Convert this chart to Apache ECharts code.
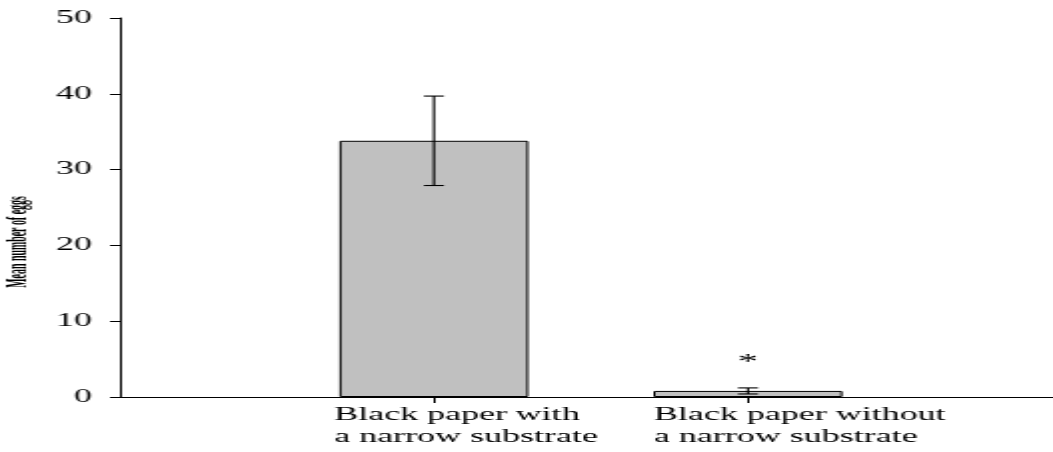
<!DOCTYPE html>
<html>
<head>
<meta charset="utf-8">
<script src="https://cdn.jsdelivr.net/npm/echarts@6/dist/echarts.min.js"></script>
<style>
html,body{margin:0;padding:0;background:#fff;}
#wrap{width:1053px;height:452px;overflow:hidden;position:relative;}
#chart{width:527px;height:452px;transform:scaleX(1.99810);transform-origin:0 0;}
</style>
</head>
<body>
<div id="wrap"><div id="chart"></div></div>
<script>
// Data
const categories = ['Black paper with\na narrow substrate', 'Black paper without\na narrow substrate'];
const meanEggs = [33.8, 0.8];
const seEggs = [5.9, 0.4];
const significance = ['', '*'];
const yTicks = [0, 10, 20, 30, 40, 50];
const yAxisTitle = 'Mean number of eggs';

// Axis slots: empty slot before and after the two treatments
const axisCats = [''].concat(categories, ['']);
const labelShift = [0, -50, -47, 0];
const barData = [null].concat(meanEggs.map((v, i) => {
  const item = { value: v };
  if (significance[i]) {
    item.label = {
      show: true, position: 'top', distance: 18, formatter: significance[i],
      fontFamily: 'Liberation Serif', fontSize: 20, color: '#000'
    };
  }
  return item;
}), [null]);
const errData = meanEggs.map((v, i) => [i + 1, v - seEggs[i], v + seEggs[i]]);

const serif = 'Liberation Serif';
const chart = echarts.init(document.getElementById('chart'), null, { renderer: 'canvas' });
chart.setOption({
  animation: false,
  backgroundColor: '#fff',
  grid: { left: 60, right: -4.5, top: 18, bottom: 55, containLabel: false, outerBoundsMode: 'none' },
  xAxis: {
    type: 'category',
    data: axisCats.map((c, i) => ({
      value: c,
      textStyle: {
        align: 'left', padding: [0, 0, 0, labelShift[i]],
        fontFamily: serif, fontSize: 18, lineHeight: 22, color: '#000'
      }
    })),
    boundaryGap: false,
    axisLine: { lineStyle: { color: '#000', width: 1.2 } },
    axisTick: { length: 6, lineStyle: { color: '#000', width: 1 }, interval: (idx) => idx === 1 || idx === 2 },
    axisLabel: {
      interval: 0, align: 'left', margin: 7,
      fontFamily: serif, fontSize: 18, lineHeight: 22, color: '#000'
    },
    splitLine: { show: false }
  },
  yAxis: {
    type: 'value', min: yTicks[0], max: yTicks[yTicks.length - 1], interval: 10,
    axisLine: { show: true, lineStyle: { color: '#000', width: 1 } },
    axisTick: { show: true, length: 5, lineStyle: { color: '#000', width: 1 } },
    axisLabel: { margin: 14, fontFamily: serif, fontSize: 18, color: '#000' },
    splitLine: { show: false }
  },
  graphic: [{
    type: 'text', x: 9, y: 242, rotation: Math.PI / 2, scaleX: 0.66, scaleY: 1,
    style: {
      text: yAxisTitle, font: 'bold 15px "Liberation Serif"', fill: '#000',
      align: 'center', verticalAlign: 'middle'
    }
  }],
  series: [
    {
      type: 'bar', data: barData, barWidth: 94.6,
      itemStyle: { color: '#c0c0c0', borderColor: '#000', borderWidth: 1 }
    },
    {
      type: 'custom', data: errData, z: 10,
      renderItem: function (params, api) {
        const x = api.value(0);
        const lo = api.coord([x, api.value(1)]);
        const hi = api.coord([x, api.value(2)]);
        const hw = 5;
        const st = { stroke: '#000', lineWidth: 1.1 };
        return {
          type: 'group', children: [
            { type: 'line', shape: { x1: lo[0], y1: lo[1], x2: hi[0], y2: hi[1] }, style: st },
            { type: 'line', shape: { x1: hi[0] - hw, y1: hi[1], x2: hi[0] + hw, y2: hi[1] }, style: st },
            { type: 'line', shape: { x1: lo[0] - hw, y1: lo[1], x2: lo[0] + hw, y2: lo[1] }, style: st }
          ]
        };
      }
    }
  ]
});
</script>
</body>
</html>
